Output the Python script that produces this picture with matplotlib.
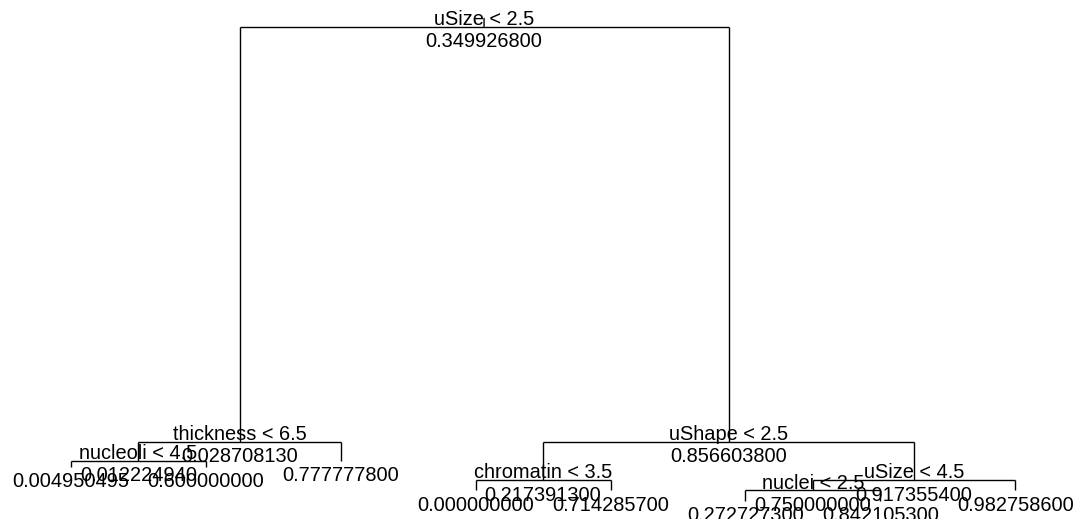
# regression tree plot (tree package style) redrawn with matplotlib
import matplotlib
matplotlib.use('Agg')
import matplotlib.pyplot as plt
import numpy as np

# node ids follow R numbering: children of n are 2n and 2n+1
node_ids = [1, 2, 4, 8, 9, 5, 3, 6, 12, 13, 7, 14, 28, 29, 15]
split_labels = ['uSize < 2.5', 'thickness < 6.5', 'nucleoli < 4.5', '', '', '',
                'uShape < 2.5', 'chromatin < 3.5', '', '',
                'uSize < 4.5', 'nuclei < 2.5', '', '', '']
yval_labels = ['0.349926800', '0.028708130', '0.012224940', '0.004950495', '0.600000000',
               '0.777777800', '0.856603800', '0.217391300', '0.000000000', '0.714285700',
               '0.917355400', '0.750000000', '0.272727300', '0.842105300', '0.982758600']
# node heights (deviance scale)
node_heights = [155.4, 37.1, 31.6, 29.9, 29.9, 31.6, 37.1, 26.1, 23.2, 23.2,
                26.1, 23.2, 20.2, 20.2, 23.2]


def tree_coords():
    ids = set(node_ids)
    y = dict(zip(node_ids, node_heights))
    x = {}
    counter = [0]

    def walk(n):
        if 2 * n in ids:
            walk(2 * n)
            walk(2 * n + 1)
            x[n] = (x[2 * n] + x[2 * n + 1]) / 2.0
        else:
            counter[0] += 1
            x[n] = float(counter[0])

    walk(1)
    return x, y


def plot_tree():
    x, y = tree_coords()
    ids = set(node_ids)

    fig = plt.figure(figsize=(10.77, 5.19), dpi=100)
    ax = fig.add_axes([0.0308, -0.0019, 0.9469, 0.9871])
    ax.set_axis_off()

    lc = 'black'
    lw = 1.0

    for n in node_ids:
        if 2 * n not in ids:
            continue
        l, r = 2 * n, 2 * n + 1
        # horizontal bar at parent height, legs down to children
        ax.plot([x[l], x[r]], [y[n], y[n]], color=lc, lw=lw, solid_capstyle='butt')
        ax.plot([x[l], x[l]], [y[n], y[l]], color=lc, lw=lw, solid_capstyle='butt')
        ax.plot([x[r], x[r]], [y[n], y[r]], color=lc, lw=lw, solid_capstyle='butt')

    # short stem above the root
    ax.annotate('', xy=(x[1], y[1]), xytext=(0, 6), textcoords='offset points',
                arrowprops=dict(arrowstyle='-', lw=lw, color=lc, shrinkA=0, shrinkB=0))

    font = dict(family=['Liberation Sans', 'DejaVu Sans'], size=14.4, color='black')
    for n, lab, yv in zip(node_ids, split_labels, yval_labels):
        if lab:
            ax.annotate(lab, xy=(x[n], y[n]), xytext=(0, 1.4), textcoords='offset points',
                        ha='center', va='baseline', **font)
        ax.annotate(yv, xy=(x[n], y[n]), xytext=(0, -14.6), textcoords='offset points',
                    ha='center', va='baseline', **font)

    # R style 4% padding around the data range
    xs = np.array(list(x.values()))
    ys = np.array(node_heights)
    px = 0.04 * (xs.max() - xs.min())
    py = 0.04 * (ys.max() - ys.min())
    ax.set_xlim(xs.min() - px, xs.max() + px)
    ax.set_ylim(ys.min() - py, ys.max() + py)

    fig.savefig('out.png', dpi=100, facecolor='white')


def main():
    plot_tree()


if __name__ == "__main__":
    main()
